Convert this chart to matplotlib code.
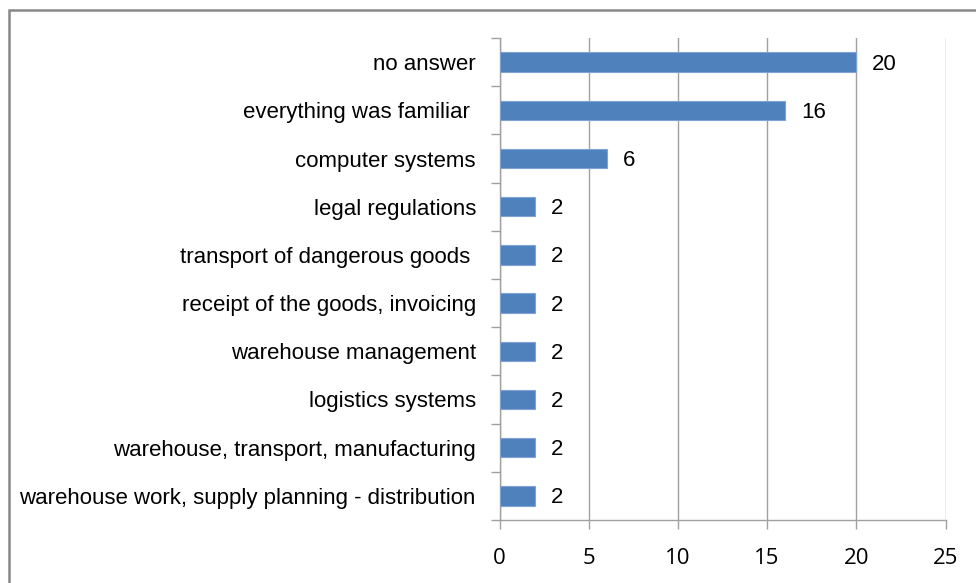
import matplotlib
matplotlib.use("Agg")
import matplotlib.pyplot as plt
from matplotlib.patches import Rectangle
from matplotlib.ticker import FixedLocator, NullFormatter

# answers, listed bottom to top
categories = [
    "warehouse work, supply planning - distribution",
    "warehouse, transport, manufacturing",
    "logistics systems",
    "warehouse management",
    "receipt of the goods, invoicing",
    "transport of dangerous goods ",
    "legal regulations",
    "computer systems",
    "everything was familiar ",
    "no answer",
]
counts = [2, 2, 2, 2, 2, 2, 2, 6, 16, 20]
x_ticks = [0, 5, 10, 15, 20, 25]

plt.rcParams["font.family"] = ["Liberation Sans", "DejaVu Sans"]

W, H = 976, 583
fig = plt.figure(figsize=(W / 100, H / 100), dpi=100)
ax = fig.add_axes([499.5 / W, 1 - 520 / H, (945.5 - 499.5) / W, (520 - 38) / H])

grid_col = "#a0a0a0"
ypos = list(range(len(categories)))
ax.barh(ypos, counts, height=0.40, color="#4f81bd", edgecolor="#7fa3d3",
        linewidth=0.8, zorder=3)

for y, v in zip(ypos, counts):
    ax.annotate(str(v), (v, y), xytext=(16, -2), textcoords="offset pixels",
                ha="left", va="center", fontsize=16, color="#000000")

ax.set_xlim(0, 25)
ax.set_ylim(-0.5, len(categories) - 0.5)
ax.set_xticks(x_ticks)
ax.set_xticklabels([str(t) for t in x_ticks], fontsize=16,
                   family=["Open Sans", "DejaVu Sans"])
ax.set_yticks(ypos)
ax.set_yticklabels(categories, fontsize=16)
ax.yaxis.set_minor_locator(FixedLocator([i - 0.5 for i in range(len(categories) + 1)]))
ax.yaxis.set_minor_formatter(NullFormatter())

ax.tick_params(axis="y", which="major", length=0, pad=17)
ax.tick_params(axis="y", which="minor", length=6.5, color=grid_col, width=1)
ax.tick_params(axis="x", length=6.5, color=grid_col, width=1, pad=14)

ax.grid(axis="x", color=grid_col, linewidth=1, zorder=0)
for side in ["top", "right"]:
    ax.spines[side].set_visible(False)
for side in ["left", "bottom"]:
    ax.spines[side].set_color(grid_col)
    ax.spines[side].set_linewidth(1)

# chart frame
fig.patches.append(Rectangle((9 / W, -0.1), 1.2, 1 - 10 / H + 0.1,
                             transform=fig.transFigure, fill=False,
                             edgecolor="#888888", linewidth=1.8))

fig.savefig("out.png", dpi=100)
